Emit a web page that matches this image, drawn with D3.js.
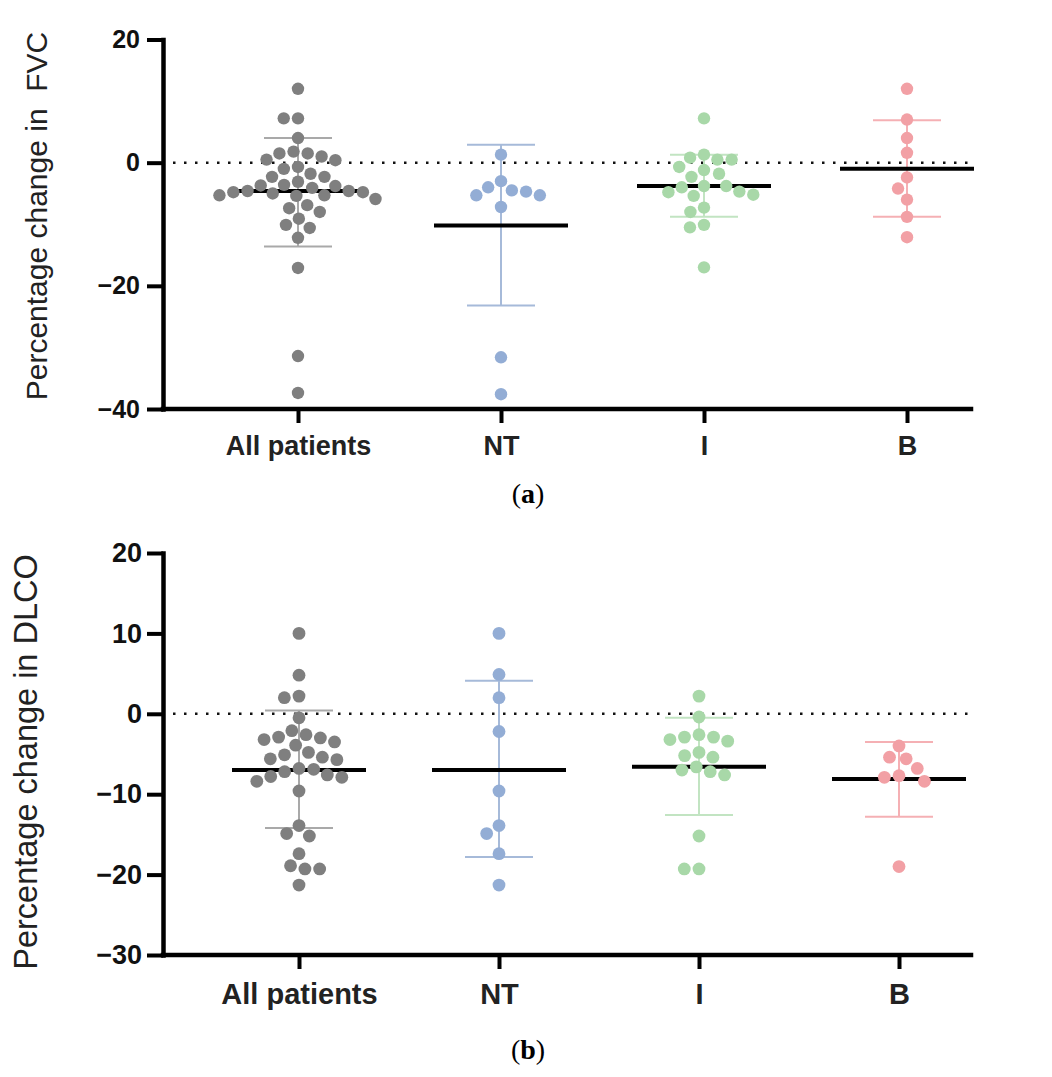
<!DOCTYPE html>
<html>
<head>
<meta charset="utf-8">
<script src="https://cdn.jsdelivr.net/npm/d3@7"></script>
<style>
  body { margin: 0; background: #fff; }
  svg { display: block; }
</style>
</head>
<body>
<div id="chart"></div>
<script>
'use strict';

const groups = ['All patients', 'NT', 'I', 'B'];

// (a) percentage change in FVC, one array per group
const fvcAll = [12.0, 7.2, 7.2, 4.0, 1.5, 1.0, 1.8, 1.5, 0.4, 0.5, -1.0, -0.7, -1.8,
  -2.3, -2.3, -3.1, -3.6, -3.7, -4.6, -3.8, -4.8, -5.3, -5.4, -5.0, -5.3, -5.9, -4.8,
  -4.1, -4.6, -7.4, -6.9, -8.0, -9.1, -10.1, -10.6, -12.2, -17.1, -31.4, -37.4];
const fvcNT = [1.3, -3.0, -4.7, -4.5, -5.3, -5.3, -4.0, -7.2, -31.6, -37.6];
const fvcI = [7.2, 0.5, 0.8, 0.5, 1.3, -0.7, -1.2, -1.8, -2.3, -3.8, -4.8, -3.8, -4.7,
  -4.0, -5.2, -5.4, -7.3, -8.0, -10.1, -10.5, -17.0];
const fvcB = [12.0, 7.0, 4.0, 1.6, -2.4, -4.2, -6.0, -8.8, -12.1];
const fvcMean = [-4.6, -10.2, -3.8, -1.0];
const fvcSdHigh = [4.0, 2.9, 1.3, 6.9];
const fvcSdLow = [-13.6, -23.2, -8.8, -8.8];
const fvcTicks = [-40, -20, 0, 20];

// (b) percentage change in DLCO
const dlcoAll = [10.0, 4.8, 2.0, 2.2, -0.5, -2.9, -3.0, -3.5, -3.2, -2.6, -2.1, -5.1,
  -5.4, -4.8, -5.6, -3.9, -5.7, -7.6, -6.9, -6.8, -7.8, -7.2, -7.9, -8.4, -9.6, -13.9,
  -15.2, -14.9, -17.4, -18.9, -19.3, -19.3, -21.3];
const dlcoNT = [10.0, 4.9, 2.0, -2.2, -9.6, -13.9, -14.9, -17.4, -21.3];
const dlcoI = [2.2, -0.4, -3.2, -2.9, -2.9, -2.6, -3.4, -5.4, -5.2, -4.8, -7.2, -6.6,
  -7.0, -7.6, -15.2, -19.3, -19.3];
const dlcoB = [-4.0, -5.4, -5.6, -6.8, -7.7, -7.9, -8.4, -19.0];
const dlcoMean = [-7.0, -7.0, -6.6, -8.1];
const dlcoSdHigh = [0.4, 4.1, -0.5, -3.5];
const dlcoSdLow = [-14.2, -17.8, -12.6, -12.8];
const dlcoTicks = [-30, -20, -10, 0, 10, 20];

const dotColors = ['#7f7f7f', '#93add5', '#a8d8a8', '#f2a0a5'];
const barColors = ['#a9a9a9', '#a6bad9', '#c2e4c2', '#f5b0b4'];

const width = 1052, height = 1077;
const svg = d3.select('#chart').append('svg')
  .attr('width', width)
  .attr('height', height);

// greedy beeswarm: each dot sits as close to the centre as it can without overlap
function dodge(ys, diameter) {
  const order = d3.range(ys.length).sort((a, b) => ys[a] - ys[b]);
  const placed = [];
  const xs = new Array(ys.length);
  const d2 = diameter * diameter;
  order.forEach(i => {
    const y = ys[i];
    const near = placed.filter(p => Math.abs(p.y - y) < diameter);
    const cands = [0];
    near.forEach(p => {
      const dx = Math.sqrt(d2 - (p.y - y) ** 2);
      cands.push(p.x - dx, p.x + dx);
    });
    cands.sort((a, b) => Math.abs(a) - Math.abs(b));
    const x = cands.find(c => near.every(p => (p.x - c) ** 2 + (p.y - y) ** 2 >= d2 - 0.01));
    xs[i] = x;
    placed.push({x: x, y: y});
  });
  return xs;
}

function drawPanel(p) {
  const g = svg.append('g');
  const y = d3.scaleLinear().domain(p.domain).range(p.yRange);
  const x = d3.scalePoint().domain(groups).range(p.xRange);
  const baseY = y(p.domain[0]);

  // dotted zero line
  g.append('line')
    .attr('x1', p.axisX0 + 10).attr('x2', p.axisX1 + 4)
    .attr('y1', y(0)).attr('y2', y(0))
    .attr('stroke', '#111')
    .attr('stroke-width', 2.5)
    .attr('stroke-dasharray', '2.5,8.5');

  groups.forEach((name, i) => {
    const cx = x(name);
    const col = g.append('g');

    // SD bar
    col.append('line')
      .attr('x1', cx).attr('x2', cx)
      .attr('y1', y(p.high[i])).attr('y2', y(p.low[i]))
      .attr('stroke', barColors[i]).attr('stroke-width', 2);
    [p.high[i], p.low[i]].forEach(v => {
      col.append('line')
        .attr('x1', cx - 34).attr('x2', cx + 34)
        .attr('y1', y(v)).attr('y2', y(v))
        .attr('stroke', barColors[i]).attr('stroke-width', 2);
    });

    // mean
    col.append('line')
      .attr('x1', cx - 67).attr('x2', cx + 67)
      .attr('y1', y(p.mean[i])).attr('y2', y(p.mean[i]))
      .attr('stroke', '#000').attr('stroke-width', 4);

    const ys = p.values[i].map(v => y(v));
    const xs = dodge(ys, p.r * 2 * 1.15);
    col.selectAll('circle')
      .data(p.values[i])
      .join('circle')
      .attr('cx', (d, j) => cx + xs[j])
      .attr('cy', d => y(d))
      .attr('r', p.r)
      .attr('fill', dotColors[i]);
  });

  // y axis
  const yAxis = g.append('g')
    .attr('transform', `translate(${p.axisX0},0)`)
    .call(d3.axisLeft(y).tickValues(p.ticks).tickSize(16).tickSizeOuter(0).tickPadding(p.yPad));
  yAxis.attr('font-family', '"Liberation Sans", Arial, sans-serif')
    .attr('font-size', p.tickFont)
    .attr('font-weight', 'bold');
  yAxis.select('.domain').attr('stroke', '#000').attr('stroke-width', 4.5).attr('stroke-linecap', 'square');
  yAxis.selectAll('.tick line').attr('stroke', '#000').attr('stroke-width', 4);
  yAxis.selectAll('.tick text').attr('fill', '#111');

  // x axis line, drawn past the last group
  g.append('line')
    .attr('x1', p.axisX0).attr('x2', p.axisX1)
    .attr('y1', baseY).attr('y2', baseY)
    .attr('stroke', '#000').attr('stroke-width', 4.5).attr('stroke-linecap', 'square');

  const xAxis = g.append('g')
    .attr('transform', `translate(0,${baseY})`)
    .call(d3.axisBottom(x).tickSize(14).tickPadding(p.xPad));
  xAxis.select('.domain').remove();
  xAxis.attr('font-family', '"Liberation Sans", Arial, sans-serif')
    .attr('font-size', p.catFont)
    .attr('font-weight', 'bold');
  xAxis.selectAll('.tick line').attr('stroke', '#000').attr('stroke-width', 4);
  xAxis.selectAll('.tick text').attr('fill', '#222');

  // axis title
  svg.append('text')
    .attr('transform', `translate(${p.titleX},${p.titleY}) rotate(-90)`)
    .attr('text-anchor', 'middle')
    .attr('font-family', '"Liberation Sans", Arial, sans-serif')
    .attr('font-size', p.titleFont)
    .attr('fill', '#222')
    .style('white-space', 'pre')
    .text(p.title);

  // panel letter
  const lab = svg.append('text')
    .attr('x', 528).attr('y', p.labelY)
    .attr('text-anchor', 'middle')
    .attr('font-family', '"Liberation Serif", "Times New Roman", serif')
    .attr('font-size', 28)
    .attr('fill', '#000');
  lab.append('tspan').text('(');
  lab.append('tspan').attr('font-weight', 'bold').text(p.label);
  lab.append('tspan').text(')');
}

drawPanel({
  values: [fvcAll, fvcNT, fvcI, fvcB],
  mean: fvcMean, high: fvcSdHigh, low: fvcSdLow,
  ticks: fvcTicks, domain: [-40, 20],
  yRange: [409, 39.5], xRange: [298, 907],
  axisX0: 163, axisX1: 971,
  r: 6.2, tickFont: 25, catFont: 27, yPad: 7, xPad: 13,
  title: 'Percentage change in  FVC', titleX: 47, titleY: 216, titleFont: 30,
  label: 'a', labelY: 503
});

drawPanel({
  values: [dlcoAll, dlcoNT, dlcoI, dlcoB],
  mean: dlcoMean, high: dlcoSdHigh, low: dlcoSdLow,
  ticks: dlcoTicks, domain: [-30, 20],
  yRange: [955, 553], xRange: [299, 899],
  axisX0: 163, axisX1: 971,
  r: 6.4, tickFont: 27, catFont: 29, yPad: 5, xPad: 14,
  title: 'Percentage change in DLCO', titleX: 37, titleY: 762, titleFont: 32.5,
  label: 'b', labelY: 1059
});
</script>
</body>
</html>
